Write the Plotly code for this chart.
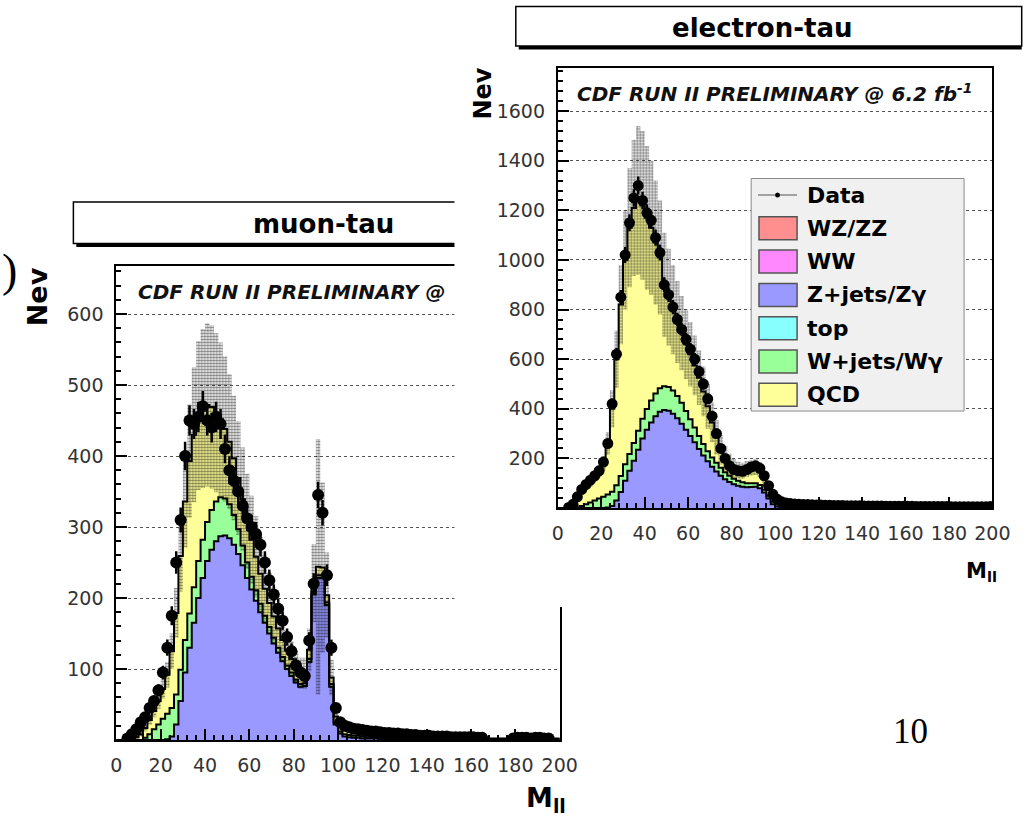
import numpy as np
import plotly.graph_objects as go

# ---------------- data (2 GeV bins, 0-200 GeV) ----------------
bin_edges = np.arange(0, 201, 2)
bin_centers = bin_edges[:-1] + 1
x_ticks = [0, 20, 40, 60, 80, 100, 120, 140, 160, 180, 200]
y_ticks_mt = [100, 200, 300, 400, 500, 600]
y_ticks_et = [200, 400, 600, 800, 1000, 1200, 1400, 1600]

# muon-tau panel
zjets_mt = [0, 0, 0, 0, 0, 0, 0, 0, 0, 0,
            0, 1, 5, 22, 55, 95, 130, 165, 200, 228,
            252, 268, 280, 287, 288, 284, 275, 262, 246, 228,
            212, 196, 180, 165, 150, 136, 123, 111, 100, 90,
            81, 75, 76, 110, 205, 228, 228, 190, 75, 22,
            9, 5, 4, 3, 3, 2, 2, 2, 2, 1,
            1, 1, 1, 1, 1, 1, 1, 1, 1, 1,
            1, 1, 1, 1, 0, 0, 0, 0, 0, 0,
            0, 0, 0, 0, 0, 0, 0, 0, 0, 0,
            0, 0, 0, 0, 0, 0, 0, 0, 0, 0]
wjets_mt = [0, 0, 0, 0, 0, 0, 3, 8, 15, 22,
            30, 36, 40, 42, 44, 46, 48, 50, 52, 54,
            55, 56, 56, 55, 52, 48, 42, 35, 28, 22,
            18, 15, 12, 10, 9, 8, 7, 6, 5, 5,
            4, 4, 4, 4, 4, 4, 4, 4, 4, 3,
            3, 3, 3, 3, 3, 3, 2, 2, 2, 2,
            2, 2, 2, 2, 2, 2, 2, 2, 2, 2,
            1, 1, 1, 1, 1, 1, 1, 1, 1, 1,
            1, 1, 1, 1, 1, 1, 1, 1, 1, 1,
            1, 1, 1, 1, 1, 1, 1, 1, 1, 1]
qcd_mt = [0, 0, 0, 2, 4, 8, 14, 20, 26, 33,
          42, 55, 80, 115, 160, 195, 215, 215, 205, 185,
          165, 145, 125, 110, 98, 88, 80, 72, 65, 58,
          52, 47, 42, 38, 34, 30, 27, 24, 21, 19,
          17, 15, 14, 13, 12, 12, 11, 10, 9, 8,
          7, 7, 6, 6, 5, 5, 5, 4, 4, 4,
          4, 3, 3, 3, 3, 3, 3, 2, 2, 2,
          2, 2, 2, 2, 2, 2, 2, 2, 2, 2,
          2, 2, 1, 1, 1, 1, 1, 1, 1, 1,
          1, 1, 1, 1, 1, 1, 1, 1, 1, 1]
syst_mt = [0, 0, 0, 1, 2, 3, 5, 7, 9, 11,
           14, 18, 25, 35, 50, 65, 80, 95, 105, 112,
           115, 115, 112, 108, 102, 95, 88, 80, 73, 67,
           62, 57, 52, 47, 43, 39, 35, 31, 28, 25,
           23, 22, 22, 30, 55, 180, 120, 60, 25, 10,
           6, 4, 4, 3, 3, 3, 3, 2, 2, 2,
           2, 2, 2, 2, 2, 2, 2, 2, 2, 2,
           2, 2, 2, 2, 2, 2, 2, 2, 2, 2,
           1, 1, 1, 1, 1, 1, 1, 1, 1, 1,
           1, 1, 1, 1, 1, 1, 1, 1, 1, 1]
data_mt = [0, 0, 2, 8, 15, 25, 32, 45, 55, 70,
           95, 130, 175, 250, 310, 400, 450, 445, 455, 470,
           450, 440, 455, 445, 410, 380, 365, 350, 330, 312,
           300, 290, 275, 250, 225, 205, 185, 168, 145, 125,
           105, 95, 90, 140, 220, 345, 320, 232, 130, 45,
           25, 20, 18, 16, 15, 14, 13, 12, 12, 11,
           10, 10, 9, 9, 8, 8, 7, 7, 6, 6,
           6, 5, 5, 5, 5, 4, 4, 4, 4, 4,
           4, 3, 3, 0, 0, 0, 0, 0, 0, 2,
           3, 3, 3, 2, 3, 3, 2, 2, 0, 0]

# electron-tau panel
zjets_et = [0, 0, 0, 0, 0, 0, 0, 0, 0, 0,
            0, 2, 8, 30, 65, 110, 150, 190, 235, 280,
            315, 345, 370, 388, 395, 392, 380, 362, 340, 315,
            290, 265, 238, 212, 188, 166, 147, 130, 116, 105,
            96, 90, 86, 84, 85, 86, 80, 62, 38, 15,
            6, 3, 2, 2, 1, 1, 1, 1, 1, 1,
            1, 1, 1, 1, 1, 1, 1, 1, 1, 1,
            0, 0, 0, 0, 0, 0, 0, 0, 0, 0,
            0, 0, 0, 0, 0, 0, 0, 0, 0, 0,
            0, 0, 0, 0, 0, 0, 0, 0, 0, 0]
wjets_et = [0, 0, 0, 0, 3, 8, 15, 22, 30, 38,
            45, 52, 58, 62, 64, 66, 68, 72, 76, 80,
            84, 88, 92, 95, 96, 96, 94, 90, 84, 76,
            68, 60, 52, 46, 41, 38, 35, 32, 28, 25,
            22, 20, 18, 16, 15, 14, 13, 12, 11, 10,
            9, 8, 8, 7, 7, 6, 6, 6, 5, 5,
            5, 5, 4, 4, 4, 4, 4, 3, 3, 3,
            3, 3, 3, 3, 3, 2, 2, 2, 2, 2,
            2, 2, 2, 2, 2, 2, 2, 2, 2, 2,
            2, 2, 2, 2, 2, 1, 1, 1, 1, 1]
qcd_et = [0, 0, 3, 15, 37, 57, 70, 83, 95, 110,
          135, 206, 334, 508, 691, 824, 912, 948, 929, 860,
          771, 697, 608, 527, 409, 362, 326, 298, 281, 269,
          262, 250, 235, 212, 181, 141, 103, 73, 56, 45,
          42, 42, 46, 57, 62, 65, 62, 51, 39, 30,
          21, 15, 11, 10, 9, 9, 8, 8, 8, 8,
          8, 8, 7, 7, 7, 7, 7, 7, 7, 6,
          6, 6, 6, 6, 6, 6, 6, 6, 5, 5,
          5, 5, 5, 5, 5, 5, 5, 5, 5, 5,
          5, 5, 5, 5, 5, 5, 5, 5, 5, 5]
syst_et = [0, 0, 1, 4, 8, 12, 15, 18, 20, 24,
           30, 45, 75, 115, 160, 200, 240, 275, 300, 300,
           290, 270, 250, 230, 210, 195, 180, 165, 150, 140,
           130, 120, 110, 100, 90, 80, 70, 60, 50, 44,
           38, 34, 32, 32, 32, 32, 30, 25, 18, 12,
           8, 6, 5, 5, 4, 4, 4, 4, 3, 3,
           3, 3, 3, 3, 3, 3, 3, 3, 3, 3,
           3, 3, 3, 3, 3, 3, 3, 3, 3, 3,
           2, 2, 2, 2, 2, 2, 2, 2, 2, 2,
           2, 2, 2, 2, 2, 2, 2, 2, 2, 2]
data_et = [0, 0, 2, 15, 45, 75, 95, 112, 130, 150,
           185, 260, 420, 620, 850, 1020, 1150, 1250, 1300, 1240,
           1190, 1160, 1090, 1030, 900, 860, 810, 760, 720, 680,
           640, 600, 550, 500, 440, 370, 300, 240, 200, 170,
           155, 150, 148, 155, 165, 170, 160, 130, 90, 55,
           35, 25, 20, 18, 16, 15, 14, 14, 13, 12,
           12, 11, 11, 10, 10, 10, 9, 9, 9, 9,
           8, 8, 8, 8, 8, 7, 7, 7, 7, 7,
           7, 7, 6, 6, 6, 6, 6, 6, 6, 6,
           5, 5, 5, 5, 5, 5, 5, 5, 5, 6]

legend_labels = ["WZ/ZZ", "WW", "Z+jets/Z\u03b3", "top", "W+jets/W\u03b3", "QCD"]
legend_colors = ["#ff8f8f", "#ff88ff", "#9999ff", "#88ffff", "#99ff99", "#ffff99"]
COL_Z, COL_W, COL_Q = "#9999ff", "#99ff99", "#ffff99"

# ---------------- helpers ----------------
W, H = 1027, 820


def px(x):
    return x / W


def py(y):
    return 1 - y / H


def step(arr):
    a = np.asarray(arr, dtype=float)
    return np.append(a, a[-1])


fig = go.Figure()


def add_panel(xa, ya, z, w, q, err, data, msize):
    z = np.asarray(z, float)
    zw = z + np.asarray(w, float)
    tot = zw + np.asarray(q, float)
    e = np.asarray(err, float)
    d = np.asarray(data, float)
    common = dict(xaxis=xa, yaxis=ya, hoverinfo="skip", showlegend=False, mode="lines")
    fig.add_trace(go.Scatter(x=bin_edges, y=step(z), fill="tozeroy", fillcolor=COL_Z,
                             line=dict(color="black", width=2, shape="hv"), **common))
    fig.add_trace(go.Scatter(x=bin_edges, y=step(zw), fill="tonexty", fillcolor=COL_W,
                             line=dict(color="black", width=2, shape="hv"), **common))
    fig.add_trace(go.Scatter(x=bin_edges, y=step(tot), fill="tonexty", fillcolor=COL_Q,
                             line=dict(color="black", width=2, shape="hv"), **common))
    fig.add_trace(go.Scatter(x=bin_edges, y=step(tot - e),
                             line=dict(color="rgba(0,0,0,0)", width=0, shape="hv"), **common))
    fig.add_trace(go.Scatter(x=bin_edges, y=step(tot + e), fill="tonexty",
                             fillcolor="rgba(0,0,0,0)",
                             fillpattern=dict(shape=".", fgcolor="#000000", bgcolor="rgba(0,0,0,0)",
                                              size=3, solidity=0.55, fillmode="overlay"),
                             line=dict(color="rgba(0,0,0,0)", width=0, shape="hv"), **common))
    m = d > 0
    fig.add_trace(go.Scatter(x=bin_centers[m], y=d[m], mode="markers", xaxis=xa, yaxis=ya,
                             hoverinfo="skip", showlegend=False,
                             marker=dict(color="black", size=msize, symbol="circle"),
                             error_y=dict(type="data", array=np.sqrt(d[m]), color="black",
                                          thickness=2.5, width=0),
                             error_x=dict(type="constant", value=1, color="black",
                                          thickness=2.5, width=0)))


# left panel (muon-tau)
add_panel("x", "y", zjets_mt, wjets_mt, qcd_mt, syst_mt, data_mt, 12)

# white cover of the overlapping right picture
fig.add_trace(go.Scatter(x=[0, 1, 1, 0, 0], y=[0, 0, 1, 1, 0], fill="toself", fillcolor="white",
                         mode="lines", line=dict(width=0, color="white"),
                         xaxis="x2", yaxis="y2", hoverinfo="skip", showlegend=False))

# right panel (electron-tau)
add_panel("x3", "y3", zjets_et, wjets_et, qcd_et, syst_et, data_et, 11)

tickfont = dict(family="DejaVu Sans", size=19, color="#333")
axis_common = dict(showline=True, linecolor="black", linewidth=2, mirror=True,
                   ticks="inside", tickcolor="black", tickwidth=1.5, ticklen=11,
                   tickfont=tickfont, zeroline=False, ticklabelstandoff=7)

fig.update_layout(
    width=W, height=820, margin=dict(l=0, r=0, t=0, b=0),
    paper_bgcolor="white", plot_bgcolor="rgba(0,0,0,0)", showlegend=False,
    xaxis=dict(domain=[px(113), px(567)], range=[0, 200], anchor="y",
               tickmode="array", tickvals=x_ticks, showgrid=False,
               minor=dict(ticks="inside", ticklen=5, dtick=4, tick0=0, tickcolor="black",
                          showgrid=False), **axis_common),
    yaxis=dict(domain=[py(740), py(266)], range=[0, 667.6], anchor="x",
               tickmode="array", tickvals=y_ticks_mt,
               showgrid=True, gridcolor="#555", griddash="dot", gridwidth=1,
               minor=dict(ticks="inside", ticklen=5, dtick=20, tick0=0, tickcolor="black",
                          showgrid=False), **axis_common),
    xaxis2=dict(domain=[px(459), 1], range=[0, 1], visible=False, anchor="y2", fixedrange=True),
    yaxis2=dict(domain=[py(607), 1], range=[0, 1], visible=False, anchor="x2", fixedrange=True),
    xaxis3=dict(domain=[px(565), px(1010)], range=[0, 200], anchor="y3",
                tickmode="array", tickvals=x_ticks, showgrid=False,
                minor=dict(ticks="inside", ticklen=5, dtick=4, tick0=0, tickcolor="black",
                           showgrid=False), **axis_common),
    yaxis3=dict(domain=[py(508), py(67.5)], range=[0, 1776], anchor="x3",
                tickmode="array", tickvals=y_ticks_et,
                showgrid=True, gridcolor="#555", griddash="dot", gridwidth=1,
                minor=dict(ticks="inside", ticklen=5, dtick=40, tick0=0, tickcolor="black",
                           showgrid=False), **axis_common),
)

shapes = []
# left title box (partly hidden under the right picture)
shapes.append(dict(type="rect", xref="paper", yref="paper", layer="below",
                   x0=px(72), x1=px(620), y0=py(247), y1=py(206),
                   fillcolor="black", line=dict(width=0)))
shapes.append(dict(type="rect", xref="paper", yref="paper", layer="below",
                   x0=px(69), x1=px(620), y0=py(243.5), y1=py(202),
                   fillcolor="white", line=dict(color="black", width=1.5)))
# right title box
shapes.append(dict(type="rect", xref="paper", yref="paper", layer="above",
                   x0=px(525), x1=px(1040), y0=py(49.5), y1=py(10),
                   fillcolor="black", line=dict(width=0)))
shapes.append(dict(type="rect", xref="paper", yref="paper", layer="above",
                   x0=px(522), x1=px(1040), y0=py(46), y1=py(6.5),
                   fillcolor="white", line=dict(color="black", width=1.5)))
# legend box
shapes.append(dict(type="rect", xref="paper", yref="paper", layer="above",
                   x0=px(763), x1=px(981), y0=py(411), y1=py(178.5),
                   fillcolor="#f0f0f0", line=dict(color="#8a8a8a", width=1)))
shapes.append(dict(type="line", xref="paper", yref="paper", layer="above",
                   x0=px(770), x1=px(810), y0=py(195), y1=py(195),
                   line=dict(color="#555", width=1)))
shapes.append(dict(type="circle", xref="paper", yref="paper", layer="above",
                   x0=px(787.5), x1=px(792.5), y0=py(197.5), y1=py(192.5),
                   fillcolor="black", line=dict(color="black", width=0)))
legend_y = [228.3, 261.6, 294.9, 328.2, 361.5, 394.8]
for yc, col in zip(legend_y, legend_colors):
    shapes.append(dict(type="rect", xref="paper", yref="paper", layer="above",
                       x0=px(771), x1=px(810), y0=py(yc + 11.5), y1=py(yc - 11.5),
                       fillcolor=col, line=dict(color="#555", width=1.5)))
fig.update_layout(shapes=shapes)

ann = []


def text(x, y, s, size, family="DejaVu Sans", xanchor="center", angle=0, color="black"):
    ann.append(dict(x=px(x), y=py(y), xref="paper", yref="paper", text=s, showarrow=False,
                    xanchor=xanchor, yanchor="middle", textangle=angle,
                    font=dict(family=family, size=size, color=color)))


text(325, 224, "<b>muon-tau</b>", 26)
text(775, 28, "<b>electron-tau</b>", 26)
text(133, 292, "<b><i>CDF RUN II PRELIMINARY @</i></b>", 20, xanchor="left", color="#111")
text(583, 93, "<b><i>CDF RUN II PRELIMINARY @ 6.2 fb<sup>-1</sup></i></b>", 20,
     xanchor="left", color="#111")
text(32, 297, "<b>Nev</b>", 27, angle=-90)
text(488.5, 93.5, "<b>Nev</b>", 24, angle=-90)
text(553, 799, "<b>M<sub>ll</sub></b>", 27)
text(999, 572, "<b>M<sub>ll</sub></b>", 21)
text(4, 270, ")", 46, family="Liberation Serif")
text(926, 731, "10", 35, family="Liberation Serif")
text(818, 195, "<b>Data</b>", 22, xanchor="left")
for yc, lab in zip(legend_y, legend_labels):
    text(818, yc, "<b>" + lab + "</b>", 22, xanchor="left")
fig.update_layout(annotations=ann)

fig.write_html("out.html")
